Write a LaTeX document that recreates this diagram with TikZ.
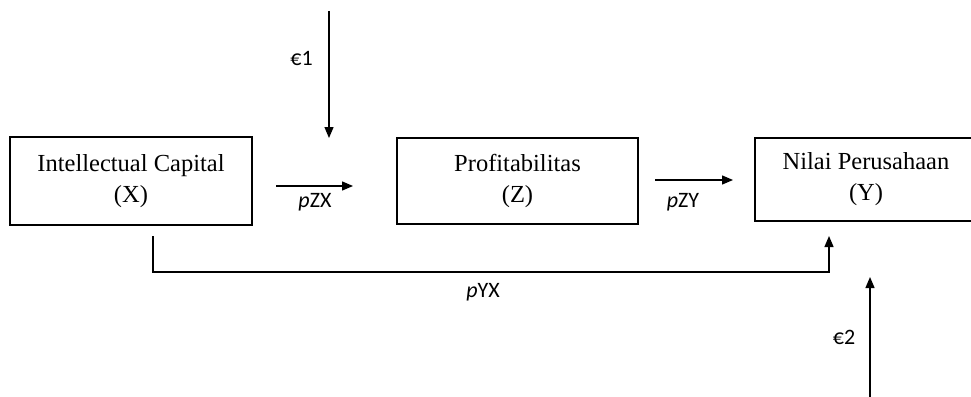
\documentclass[tikz,border=0pt]{standalone}
\usepackage{fontspec}
\setmainfont{Liberation Serif}
\newfontfamily\lblfont{Carlito}
\usetikzlibrary{arrows.meta}
\tikzset{
  box/.style={draw, line width=1.3pt, inner sep=0pt, align=center,
    font=\fontsize{24.5}{31}\selectfont},
  conn/.style={line width=1.3pt},
  arr/.style={line width=1.3pt, -{Triangle[length=11pt,width=9pt]}},
  lbl/.style={anchor=base, inner sep=0pt, font=\lblfont\fontsize{22}{26}\selectfont}
}
\begin{document}
\begin{tikzpicture}[x=1pt,y=-1pt]
\useasboundingbox (0,0) rectangle (971,396);
\clip (0,0) rectangle (971,396);
% boxes
\node[box, minimum width=242pt, minimum height=88pt] (bx) at (131,181) {Intellectual Capital\\(X)};
\node[box, minimum width=241pt, minimum height=86pt] (bz) at (517.5,181) {Profitabilitas\\(Z)};
\node[box, minimum width=222pt, minimum height=83pt] (by) at (866,179.5) {Nilai Perusahaan\\(Y)};
% free ends
\coordinate (e1s) at (329,11);
\coordinate (e1e) at (329,138);
\coordinate (zxs) at (276,186);
\coordinate (zxe) at (353,186);
\coordinate (zys) at (655,180);
\coordinate (zye) at (733,180);
\coordinate (yxs) at (153,236);
\coordinate (yxc) at (153,272);
\coordinate (yxd) at (829,272);
\coordinate (yxe) at (829,236);
\coordinate (e2s) at (870,400);
\coordinate (e2e) at (870,277);
% connectors
\draw[arr] (e1s) -- (e1e);
\draw[arr] (zxs) -- (zxe);
\draw[arr] (zys) -- (zye);
\draw[arr] (yxs) -- (yxc) -- (yxd) -- (yxe);
\draw[arr] (e2s) -- (e2e);
% labels
\node[lbl] (lzx) at (315,207) {\textit{p}ZX};
\node[lbl] (lzy) at (683,207) {\textit{p}ZY};
\node[lbl] (lyx) at (483,297) {\textit{p}YX};
\node[lbl] (le1) at (301.5,66) {€1};
\node[lbl] (le2) at (844,344) {€2};
\end{tikzpicture}
\end{document}
